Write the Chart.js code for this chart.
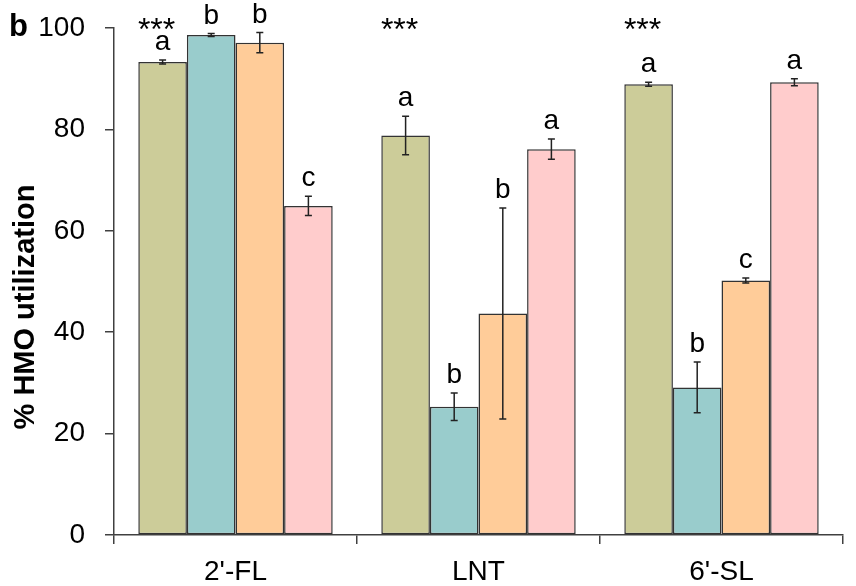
<!DOCTYPE html>
<html>
<head>
<meta charset="utf-8">
<script src="https://cdn.jsdelivr.net/npm/chart.js@4"></script>
<style>
  html, body { margin: 0; padding: 0; background: #fff; }
  #wrap { width: 856px; height: 586px; position: relative; }
</style>
</head>
<body>
<div id="wrap"><canvas id="c" width="856" height="586"></canvas></div>
<script>
const categories = ["2'-FL", "LNT", "6'-SL"];
const seriesNames = ["Series 1", "Series 2", "Series 3", "Series 4"];
const valuesA = [93.3, 78.8, 88.9];
const valuesB = [98.6, 25.3, 29.1];
const valuesC = [97.1, 43.7, 50.2];
const valuesD = [64.9, 76.1, 89.3];
const errorsA = [0.4, 3.8, 0.4];
const errorsB = [0.3, 2.7, 5.0];
const errorsC = [2.0, 20.8, 0.5];
const errorsD = [1.9, 2.0, 0.7];
const lettersA = ["a", "a", "a"];
const lettersB = ["b", "b", "b"];
const lettersC = ["b", "b", "c"];
const lettersD = ["c", "a", "a"];
const significance = ["***", "***", "***"];
const yTicks = [0, 20, 40, 60, 80, 100];
const panelLabel = "b";
const yTitle = "% HMO utilization";

const colors = ["#CCCC99", "#99CCCC", "#FFCC99", "#FFCCCC"];
const FONT = "'Liberation Sans', Arial, sans-serif";
const allValues = [valuesA, valuesB, valuesC, valuesD];
const allErrors = [errorsA, errorsB, errorsC, errorsD];
const allLetters = [lettersA, lettersB, lettersC, lettersD];

const annotate = {
  id: 'annotate',
  afterDatasetsDraw(chart) {
    const ctx = chart.ctx;
    const ys = chart.scales.y;
    ctx.save();
    ctx.strokeStyle = '#222';
    ctx.lineWidth = 1.5;
    ctx.fillStyle = '#000';
    ctx.font = '28px ' + FONT;
    ctx.textAlign = 'center';
    ctx.textBaseline = 'alphabetic';
    chart.data.datasets.forEach((ds, i) => {
      const meta = chart.getDatasetMeta(i);
      meta.data.forEach((bar, j) => {
        const v = allValues[i][j], e = allErrors[i][j];
        const x = bar.x;
        const yt = ys.getPixelForValue(v + e);
        const yb = ys.getPixelForValue(v - e);
        ctx.beginPath();
        ctx.moveTo(x, yt); ctx.lineTo(x, yb);
        ctx.moveTo(x - 3.5, yt); ctx.lineTo(x + 3.5, yt);
        ctx.moveTo(x - 3.5, yb); ctx.lineTo(x + 3.5, yb);
        ctx.stroke();
        ctx.fillText(allLetters[i][j], x, yt - 10);
      });
    });
    const meta0 = chart.getDatasetMeta(0);
    ctx.font = '32px ' + FONT;
    meta0.data.forEach((bar, j) => {
      ctx.fillText(significance[j], bar.x - 6, 40);
    });
    ctx.font = 'bold 31px ' + FONT;
    ctx.textAlign = 'left';
    ctx.fillText(panelLabel, 9, 36);
    ctx.font = 'bold 29px ' + FONT;
    ctx.translate(26, 307);
    ctx.rotate(-Math.PI / 2);
    ctx.textAlign = 'center';
    ctx.textBaseline = 'middle';
    ctx.fillText(yTitle, 0, 0);
    ctx.restore();
  }
};

new Chart(document.getElementById('c'), {
  type: 'bar',
  data: {
    labels: categories,
    datasets: allValues.map((vals, i) => ({
      label: seriesNames[i],
      data: vals,
      backgroundColor: colors[i],
      borderColor: '#333',
      borderWidth: 1.5,
      borderSkipped: false,
      categoryPercentage: 0.8,
      barPercentage: 1.0
    }))
  },
  options: {
    responsive: false,
    animation: false,
    devicePixelRatio: 1,
    layout: { padding: { left: 0, right: 13, top: 28, bottom: 0 } },
    plugins: { legend: { display: false }, tooltip: { enabled: false } },
    scales: {
      x: {
        afterFit(s) { s.height = 51; s.paddingLeft = 0; s.paddingRight = 0; },
        grid: { display: true, drawOnChartArea: false, drawTicks: true, tickLength: 9, color: '#404040', lineWidth: 1.5, offset: true },
        border: { display: true, color: '#404040', width: 1.5 },
        ticks: { color: '#000', font: { family: FONT, size: 28 }, padding: 11 }
      },
      y: {
        min: 0, max: 100,
        afterFit(s) { s.width = 114; s.paddingTop = 0; s.paddingBottom = 0; },
        afterBuildTicks(s) { s.ticks = yTicks.map(v => ({ value: v })); },
        grid: { display: true, drawOnChartArea: false, drawTicks: true, tickLength: 9, color: '#404040', lineWidth: 1.5 },
        border: { display: true, color: '#404040', width: 1.5 },
        ticks: { color: '#000', font: { family: FONT, size: 28 }, padding: 20 }
      }
    }
  },
  plugins: [annotate]
});
</script>
</body>
</html>
